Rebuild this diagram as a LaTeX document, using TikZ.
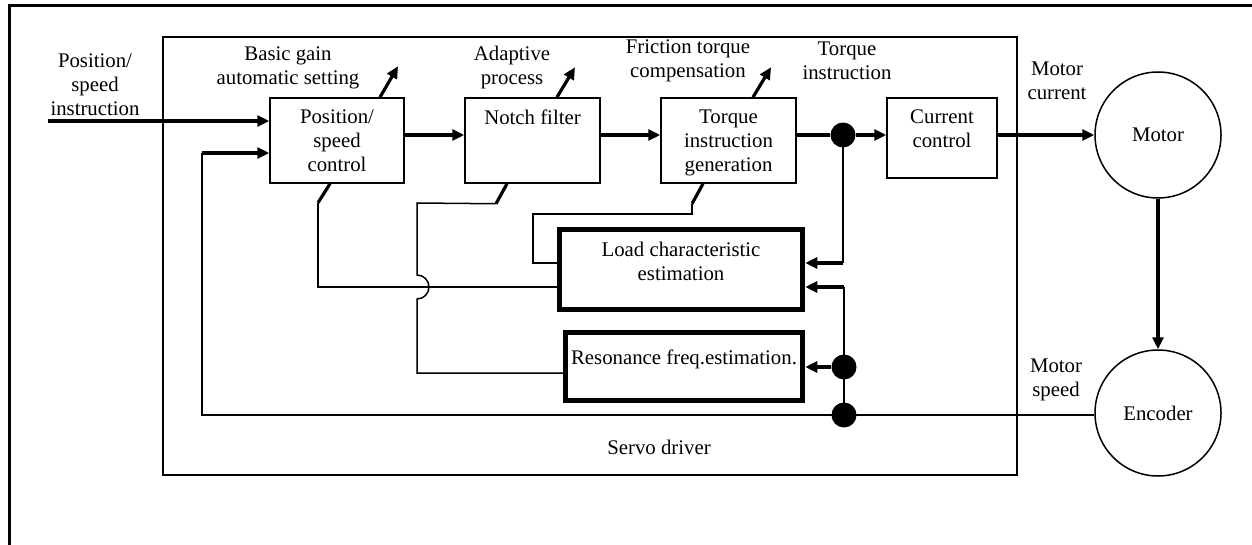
\documentclass[tikz,border=0pt]{standalone}
\usepackage{fontspec}
\setmainfont{Liberation Serif}
\usetikzlibrary{arrows.meta,positioning}

\begin{document}
\begin{tikzpicture}[
  x=1pt, y=-1pt,
  font=\fontsize{20.8}{24}\selectfont,
  every node/.style={inner sep=0pt},
  block/.style={
    draw,
    line width=1.5pt,
    minimum width=134pt,
    minimum height=85pt
  },
  estblock/.style={
    draw,
    line width=5.5pt
  },
  unit/.style={
    draw,
    circle,
    line width=1.5pt,
    minimum size=126pt
  },
  junction/.style={
    circle,
    fill,
    minimum size=25pt
  },
  txt/.style={align=center},
  sig/.style={
    line width=3.2pt,
    -{Triangle[length=12pt,width=11pt]}
  },
  tap/.style={line width=3.2pt},
  wire/.style={line width=1.5pt}
]
\useasboundingbox (0,0) rectangle (1252,545);
\draw[line width=3pt] (9,545) -- (9,6) -- (1252,6);

% servo driver
\node[draw, line width=1.5pt, minimum width=854pt, minimum height=438pt] (servo) at (590,256) {};
\node (servolbl) at (659,447) {Servo driver};

% blocks
\node[block] (posctl) at (337,140.5) {};
\node[block, minimum width=135pt] (notch) at (532.5,140.5) {};
\node[block, minimum width=135pt] (torque) at (728.5,140.5) {};
\node[block, minimum width=110pt, minimum height=80pt] (current) at (942,138) {};
\node[estblock, minimum width=243pt, minimum height=80pt] (load) at (681,269.5) {};
\node[estblock, minimum width=237pt, minimum height=68pt] (reson) at (684,366.5) {};
\node[unit] (motor) at (1158,135) {Motor};
\node[unit] (encoder) at (1158,413) {Encoder};

\node[txt, below=12pt of posctl.north] (posctlT) {Position/\\speed\\control};
\node[txt, below=12pt of notch.north] (notchT) {Notch filter};
\node[txt, below=12pt of torque.north] (torqueT) {Torque\\instruction\\generation};
\node[txt, below=12pt of current.north] (currentT) {Current\\control};
\node[txt, below=15pt of load.north] (loadT) {Load characteristic\\estimation};
\node[txt, below=20pt of reson.north] (resonT) {Resonance freq.estimation.};

% labels
\node[txt] (reflbl) at (95,85) {Position/\\speed\\instruction};
\node[txt] (gainlbl) at (288,68) {Basic gain\\automatic setting};
\node[txt] (adaptlbl) at (512,68) {Adaptive\\process};
\node[txt] (friclbl) at (688,61) {Friction torque\\compensation};
\node[txt] (tqlbl) at (847,61) {Torque\\instruction};
\node[txt] (curlbl) at (1057,81) {Motor\\current};
\node[txt] (spdlbl) at (1056,380) {Motor\\speed};

% junctions
\node[junction] (tdot) at (843,135) {};
\node[junction] (rdot) at (844,367) {};
\node[junction] (fdot) at (844,415) {};
\coordinate (refin) at (48,121);
\coordinate (fbturn) at (202,153);

% forward path
\draw[sig] (refin) -- (posctl.west |- refin);
\draw[sig] (posctl.east |- tdot) -- (notch.west |- tdot);
\draw[sig] (notch.east |- tdot) -- (torque.west |- tdot);
\draw[tap] (torque.east |- tdot) -- (tdot);
\draw[sig] (tdot) -- (current.west |- tdot);
\draw[sig] (current.east |- tdot) -- (motor);
\draw[sig] (motor) -- (encoder);

% feedback
\draw[wire] (encoder.west |- fdot) -- (fdot.center) -- (fbturn |- fdot) -- (fbturn);
\draw[sig] (fbturn) -- (posctl.west |- fbturn);

% estimation inputs
\draw[wire] (tdot.center) -- (tdot |- 0,263) coordinate (ltop);
\draw[sig] (ltop) -- (load.east |- ltop);
\draw[wire] (fdot.center) -- (rdot.center) -- (rdot |- 0,287) coordinate (lbot);
\draw[sig] (lbot) -- (load.east |- lbot);
\draw[sig] (rdot) -- (reson.east |- rdot);

% tuning outputs
\draw[sig] ([xshift=43pt]posctl.north) -- ++(18,-31);
\draw[sig] ([xshift=24.5pt]notch.north) -- ++(18,-30);
\draw[sig] ([xshift=24.5pt]torque.north) -- ++(18,-30);

\draw[tap] ([xshift=-7pt]posctl.south) -- ++(-12,19) coordinate (pk);
\draw[wire] (pk) -- (pk |- 0,287) -- (load.west |- 0,287);
\draw[tap] ([xshift=-25.5pt]notch.south) -- ++(-11,20) coordinate (nk);
\draw[wire] (nk) -- (417,203) -- (417,275) arc[start angle=90, end angle=-90, radius=12pt]
  -- (417,373) -- (reson.west |- 0,373);
\draw[tap] ([xshift=-25.5pt]torque.south) -- ++(-11,20) coordinate (tk);
\draw[wire] (tk) -- (tk |- 0,214) -- (533,214) -- (533,263) -- (load.west |- 0,263);
\end{tikzpicture}
\end{document}
